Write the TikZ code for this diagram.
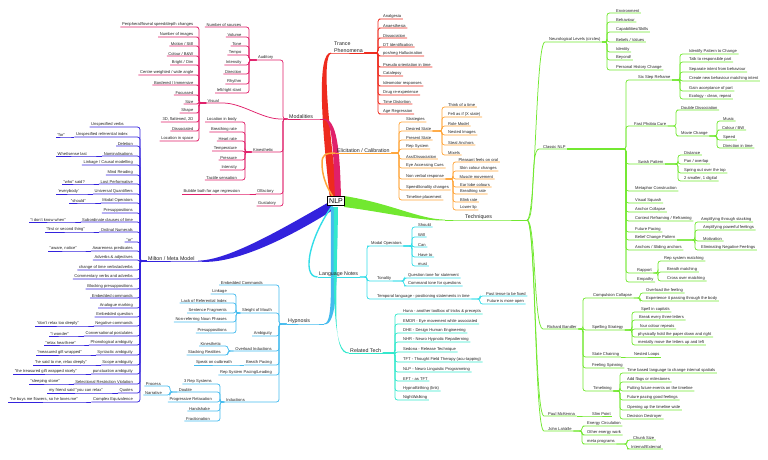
\documentclass[tikz,border=0pt]{standalone}
\usepackage{fontspec}
\setmainfont{Liberation Sans}
\usetikzlibrary{calc,backgrounds}
\definecolor{txt}{HTML}{222222}
\definecolor{trC}{HTML}{EE2B1E}
\definecolor{moC}{HTML}{E0206A}
\definecolor{elC}{HTML}{FFA53A}
\definecolor{teC}{HTML}{72E830}
\definecolor{miC}{HTML}{3322DD}
\definecolor{lnC}{HTML}{33DDE8}
\definecolor{hyC}{HTML}{44BBEE}
\definecolor{rtC}{HTML}{33E8CC}
\tikzset{
  base/.style={inner xsep=1.5pt, inner ysep=0.7pt, font=\fontsize{4.1}{4.8}\selectfont, text=txt},
  R/.style={base, anchor=south west},
  L/.style={base, anchor=south east},
  big/.style={font=\fontsize{5.3}{6.8}\selectfont},
  con/.style={line width=0.75pt, rounded corners=2.5pt},
  trL/.style={con, draw=trC},
  moL/.style={con, draw=moC},
  elL/.style={con, draw=elC},
  teL/.style={con, draw=teC},
  miL/.style={con, draw=miC},
  lnL/.style={con, draw=lnC},
  hyL/.style={con, draw=hyC},
  rtL/.style={con, draw=rtC},
  nlpbox/.style={draw=black, line width=0.8pt, fill=white, inner sep=1.8pt, font=\fontsize{7}{8}\selectfont, text=black}
}
\begin{document}
\begin{tikzpicture}[x=1pt,y=-1pt]
\useasboundingbox (0,0) rectangle (768,460);
\node[nlpbox] (nlp) at (336,201) {NLP};

% ================= Trance Phenomena =================
\node[R,big,align=left] (tp) at (332.5,53) {Trance\\Phenomena};
\coordinate (sTP) at (378,0);
\node[R] (t1) at (381.5,19) {Analgesia};
\node[R] (t2) at (381.5,28) {Anaesthesia};
\node[R] (t3) at (381.5,38) {Dissociation};
\node[R] (t4) at (381.5,47) {DT Identification};
\node[R] (t5) at (381.5,56) {pos/neg Hallucination};
\node[R] (t6) at (381.5,67) {Pseudo orientation in time};
\node[R] (t7) at (381.5,76) {Catalepsy};
\node[R] (t8) at (381.5,86) {Ideomotor responses};
\node[R] (t9) at (381.5,95) {Drug re-experience};
\node[R] (t10) at (381.5,104) {Time Distortion};
\node[R] (t11) at (381.5,114) {Age Regression};
\draw[trL] (331,53) -- (tp.south west) -- (tp.south east);
\foreach \i in {1,...,11} \draw[trL] (tp.south east) -- (tp.south east -| sTP) |- (t\i.south west) -- (t\i.south east);

% ================= Modalities =================
\node[R,big] (mod) at (287.5,119) {Modalities};
\coordinate (sMod) at (283,0);
\node[R] (aud) at (256.5,60) {Auditory};
\node[R] (vis) at (206,103) {Visual};
\node[R] (kin) at (251.5,152) {Kinesthetic};
\node[R] (olf) at (255.5,194) {Olfactory};
\node[R] (gus) at (256.5,206) {Gustatory};
\draw[moL] (323,119) -- (mod.south east) -- (mod.south west);
\foreach \c in {aud,kin,olf,gus} \draw[moL] (mod.south west) -- (mod.south west -| sMod) |- (\c.south east) -- (\c.south west);
\draw[moL] (mod.south west) -- (mod.south west -| sMod) .. controls (262,119) and (242,103) .. (vis.south east) -- (vis.south west);
% Auditory
\coordinate (sAud) at (249,0);
\node[L] (a1) at (243,27) {Number of sources};
\node[L] (a2) at (243,37) {Volume};
\node[L] (a3) at (243,46) {Tone};
\node[L] (a4) at (243,55) {Tempo};
\node[L] (a5) at (243,65) {Intensity};
\node[L] (a6) at (243,74) {Direction};
\node[L] (a7) at (243,84) {Rhythm};
\node[L] (a8) at (243,93) {left/right slant};
\foreach \i in {1,...,8} \draw[moL] (aud.south west) -- (aud.south west -| sAud) |- (a\i.south east) -- (a\i.south west);
% Visual
\coordinate (sVis) at (199,0);
\node[L] (v1) at (195,27) {Peripheral/foveal speed/depth changes};
\node[L] (v2) at (195,37) {Number of images};
\node[L] (v3) at (195,46) {Motion / Still};
\node[L] (v4) at (195,56) {Colour / B\&W};
\node[L] (v5) at (195,65) {Bright / Dim};
\node[L] (v6) at (195,75) {Centre-weighted / wide angle};
\node[L] (v7) at (195,85) {Bordered / Immersive};
\node[L] (v8) at (195,95) {Focussed};
\node[L] (v9) at (195,104) {Size};
\node[L] (v10) at (195,113) {Shape};
\node[L] (v11) at (195,122) {3D, flattened, 2D};
\node[L] (v12) at (195,131) {Dissociated};
\node[L] (v13) at (195,141) {Location in space};
\foreach \i in {1,...,13} \draw[moL] (vis.south west) -- (vis.south west -| sVis) |- (v\i.south east) -- (v\i.south west);
% Kinesthetic
\coordinate (sKin) at (245,0);
\node[L] (k1) at (238.5,122) {Location in body};
\node[L] (k2) at (238.5,132) {Breathing rate};
\node[L] (k3) at (238.5,141) {Heart rate};
\node[L] (k4) at (238.5,151) {Temperature};
\node[L] (k5) at (238.5,160) {Pressure};
\node[L] (k6) at (238.5,170) {Intensity};
\node[L] (k7) at (238.5,180) {Tactile sensation};
\foreach \i in {1,...,7} \draw[moL] (kin.south west) -- (kin.south west -| sKin) |- (k\i.south east) -- (k\i.south west);
% Olfactory
\node[L] (bub) at (241.5,194) {Bubble bath for age regression};
\draw[moL] (olf.south west) -- (bub.south east) -- (bub.south west);

% ================= Elicitation / Calibration =================
\node[R,big] (el) at (335.5,153) {Elicitation / Calibration};
\coordinate (sEl) at (399,0);
\node[R] (e1) at (404.5,122) {Strategies};
\node[R] (e2) at (404.5,131) {Desired State};
\node[R] (e3) at (404.5,140) {Present State};
\node[R] (e4) at (404.5,149) {Rep System};
\node[R] (e5) at (404.5,159) {Ass/Dissociation};
\node[R] (e6) at (404.5,168) {Eye Accessing Cues};
\node[R] (e7) at (404.5,179) {Non verbal response};
\node[R] (e8) at (404.5,190) {Speed/tonality changes};
\node[R] (e9) at (404.5,200) {Timeline placement};
\draw[elL] (el.south west) -- (el.south east);
\foreach \i in {1,...,9} \draw[elL] (el.south east) -- (el.south east -| sEl) |- (e\i.south west) -- (e\i.south east);
\coordinate (sDes) at (442,0);
\node[R] (d1) at (446.5,107) {Think of a time};
\node[R] (d2) at (446.5,117) {Felt as if (X state)};
\node[R] (d3) at (446.5,126) {Role Model};
\node[R] (d4) at (446.5,135) {Nested Images};
\node[R] (d5) at (446.5,145) {Steal Anchors};
\node[R] (d6) at (446.5,155) {Mixels};
\foreach \i in {1,...,6} \draw[elL] (e2.south east) -- (e2.south east -| sDes) |- (d\i.south west) -- (d\i.south east);
\coordinate (sNv) at (453,0);
\node[R] (n1) at (457,162) {Pleasant feels on oral};
\node[R] (n2) at (458,171) {Skin colour changes};
\node[R] (n3) at (458,179) {Muscle movement};
\node[R] (n4) at (458.5,187) {Ear lobe colours};
\node[R] (n5) at (458.5,194) {Breathing rate};
\node[R] (n6) at (458.5,202) {Blink rate};
\node[R] (n7) at (458.5,210) {Lower lip};
\foreach \i in {1,...,7} \draw[elL] (e7.south east) -- (e7.south east -| sNv) |- (n\i.south west) -- (n\i.south east);

% ================= Techniques =================
\node[R,big] (tech) at (463.5,220) {Techniques};
\coordinate (sTe) at (527,220);
\draw[teL] (445,220) -- (tech.south west) -- (tech.south east) -- (sTe);
\node[R] (nl) at (547.5,42) {Neurological Levels (circles)};
\node[R] (cn) at (541.5,149) {Classic NLP};
\node[R] (rb) at (545.5,329) {Richard Bandler};
\node[R] (pm) at (546.5,416) {Paul McKenna};
\node[R] (jl) at (546.5,431) {John LaValle};
\foreach \c in {nl,cn,rb,pm,jl} \draw[teL] (sTe) .. controls +(9,0) and +(-12,0) .. (\c.south west) -- (\c.south east);
% Neurological levels
\coordinate (sNl) at (607,0);
\node[R] (nl1) at (614.5,13) {Environment};
\node[R] (nl2) at (614.5,22) {Behaviour};
\node[R] (nl3) at (614.5,32) {Capabilities/Skills};
\node[R] (nl4) at (614.5,42) {Beliefs / Values};
\node[R] (nl5) at (614.5,52) {Identity};
\node[R] (nl6) at (614.5,60) {Beyond!};
\node[R] (nl7) at (614.5,70) {Personal History Change};
\foreach \i in {1,...,7} \draw[teL] (nl.south east) -- (nl.south east -| sNl) |- (nl\i.south west) -- (nl\i.south east);
% Classic NLP
\coordinate (sCn) at (626,0);
\node[R] (c1) at (636.5,80) {Six Step Reframe};
\node[R] (c2) at (632.5,126) {Fast Phobia Cure};
\node[R] (c3) at (636.5,164) {Swish Pattern};
\node[R] (c4) at (633.5,191) {Metaphor Construction};
\node[R] (c5) at (633.5,203) {Visual Squash};
\node[R] (c6) at (633.5,212) {Anchor Collapse};
\node[R] (c7) at (633.5,221) {Context Reframing / Reframing};
\node[R] (c8) at (633.5,232) {Future Pacing};
\node[R] (c9) at (633.5,240) {Belief Change Pattern};
\node[R] (c10) at (633.5,250) {Anchors / Sliding anchors};
\node[R] (c11) at (635.5,273) {Rapport};
\node[R] (c12) at (635.5,282) {Empathy};
\foreach \i in {1,...,12} \draw[teL] (cn.south east) -- (cn.south east -| sCn) |- (c\i.south west) -- (c\i.south east);
\coordinate (sSs) at (680,0);
\node[R] (s1) at (687.5,54) {Identify Pattern to Change};
\node[R] (s2) at (687.5,62) {Talk to responsible part};
\node[R] (s3) at (687.5,72) {Separate intent from behaviour};
\node[R] (s4) at (687.5,81) {Create new behaviour matching intent};
\node[R] (s5) at (687.5,91) {Gain acceptance of part};
\node[R] (s6) at (687.5,99) {Ecology - clean, repeat};
\foreach \i in {1,...,6} \draw[teL] (c1.south east) -- (c1.south east -| sSs) |- (s\i.south west) -- (s\i.south east);
\coordinate (sFp) at (676,0);
\node[R] (f1) at (679.5,110) {Double Dissociation};
\node[R] (f2) at (679.5,136) {Movie Change};
\foreach \i in {1,2} \draw[teL] (c2.south east) -- (c2.south east -| sFp) |- (f\i.south west) -- (f\i.south east);
\coordinate (sMv) at (717,0);
\node[R] (mv1) at (721.5,121) {Music};
\node[R] (mv2) at (720.5,130) {Colour / BW};
\node[R] (mv3) at (721.5,140) {Speed};
\node[R] (mv4) at (721.5,148) {Direction in time};
\foreach \i in {1,...,4} \draw[teL] (f2.south east) -- (f2.south east -| sMv) |- (mv\i.south west) -- (mv\i.south east);
\coordinate (sSw) at (678,0);
\node[R] (sw1) at (682.5,155) {Distance};
\node[R] (sw2) at (682.5,164) {Pan / overlap};
\node[R] (sw3) at (682.5,173) {Spring out over the top};
\node[R] (sw4) at (682.5,181) {2 smaller, 1 digital};
\foreach \i in {1,...,4} \draw[teL] (c3.south east) -- (c3.south east -| sSw) |- (sw\i.south west) -- (sw\i.south east);
\coordinate (sBc) at (695,0);
\node[R] (b1) at (699.5,222) {Amplifying through stacking};
\node[R] (b2) at (701.5,230) {Amplifying powerful feelings};
\node[R] (b3) at (701.5,241) {Motivation};
\node[R] (b4) at (699.5,250) {Eliminating Negative Feelings};
\foreach \i in {1,...,4} \draw[teL] (c9.south east) -- (c9.south east -| sBc) |- (b\i.south west) -- (b\i.south east);
\coordinate (sRp) at (658,0);
\node[R] (r1) at (662.5,261) {Rep system matching};
\node[R] (r2) at (665.5,272) {Breath matching};
\node[R] (r3) at (665.5,281) {Cross over matching};
\foreach \i in {1,2,3} \draw[teL] (c11.south east) -- (c11.south east -| sRp) |- (r\i.south west) -- (r\i.south east);
% Richard Bandler
\coordinate (sRb) at (583,0);
\node[R] (cc) at (591.5,298) {Compulsion Collapse};
\node[R] (ss) at (590.5,330) {Spelling Strategy};
\node[R] (sc) at (590.5,357) {State Chaining};
\node[R] (fs) at (590.5,368) {Feeling Spinning};
\node[R] (tl) at (591.5,391) {Timelining};
\foreach \c in {cc,ss,sc,fs,tl} \draw[teL] (rb.south east) -- (rb.south east -| sRb) |- (\c.south west) -- (\c.south east);
\coordinate (sCc) at (640,0);
\node[R] (cc1) at (644.5,293) {Overload the feeling};
\node[R] (cc2) at (644.5,301) {Experience it passing through the body};
\foreach \i in {1,2} \draw[teL] (cc.south east) -- (cc.south east -| sCc) |- (cc\i.south west) -- (cc\i.south east);
\coordinate (sSp) at (632,0);
\node[R] (sp1) at (639.5,312) {Spell in capitals};
\node[R] (sp2) at (637.5,320) {Break every three letters};
\node[R] (sp3) at (638.5,329) {four colour repeats};
\node[R] (sp4) at (636.5,337) {physically hold the paper down and right};
\node[R] (sp5) at (636.5,345) {mentally move the letters up and left};
\foreach \i in {1,...,5} \draw[teL] (ss.south east) -- (ss.south east -| sSp) |- (sp\i.south west) -- (sp\i.south east);
\node[R] (nlo) at (632.5,357) {Nested Loops};
\draw[teL] (sc.south east) -- (nlo.south west) -- (nlo.south east);
\coordinate (sTl) at (620,0);
\node[R] (tl1) at (625.5,373) {Time based language to change internal spatials};
\node[R] (tl2) at (625.5,382) {Add flags or milestones};
\node[R] (tl3) at (625.5,391) {Putting future events on the timeline};
\node[R] (tl4) at (625.5,400) {Future pacing good feelings};
\node[R] (tl5) at (625.5,410) {Opening up the timeline wide};
\node[R] (tl6) at (625.5,419) {Decision Destroyer};
\foreach \i in {1,...,6} \draw[teL] (tl.south east) -- (tl.south east -| sTl) |- (tl\i.south west) -- (tl\i.south east);
\node[R] (slp) at (590.5,416) {Slim Point};
\draw[teL] (pm.south east) -- (slp.south west) -- (slp.south east);
\coordinate (sJl) at (582,0);
\node[R] (jl1) at (585.5,426) {Energy Circulation};
\node[R] (jl2) at (585.5,435) {Other energy work};
\node[R] (jl3) at (585.5,444) {meta programs};
\foreach \i in {1,2,3} \draw[teL] (jl.south east) -- (jl.south east -| sJl) |- (jl\i.south west) -- (jl\i.south east);
\coordinate (sMp) at (627,0);
\node[R] (mp1) at (631.5,440) {Chunk Size};
\node[R] (mp2) at (629.5,449) {Internal/External};
\foreach \i in {1,2} \draw[teL] (jl3.south east) -- (jl3.south east -| sMp) |- (mp\i.south west) -- (mp\i.south east);

% ================= Milton / Meta Model =================
\node[R,big] (mil) at (146.5,261) {Milton / Meta Model};
\coordinate (sMil) at (140,0);
\draw[miL] (198,261) -- (mil.south east) -- (mil.south west);
\node[L] (m1) at (125.5,127) {Unspecified verbs};
\node[L] (m2) at (129.5,137) {Unspecified referential index};
\node[L] (m3) at (134.5,146) {Deletion};
\node[L] (m4) at (134.5,156) {Nominalisations};
\node[L] (m5) at (134.5,165) {Linkage / Causal modelling};
\node[L] (m6) at (134.5,175) {Mind Reading};
\node[L] (m7) at (134.5,184) {Lost Performative};
\node[L] (m8) at (134.5,194) {Universal Quantifiers};
\node[L] (m9) at (134.5,203) {Modal Operators};
\node[L] (m10) at (134.5,213) {Presuppositions};
\node[L] (m11) at (134.5,222) {Subordinate clauses of time};
\node[L] (m12) at (134.5,232) {Ordinal Numerals};
\node[L] (m13) at (134.5,242) {"or"};
\node[L] (m14) at (134.5,251) {Awareness predicates};
\node[L] (m15) at (134.5,260) {Adverbs \& adjectives};
\node[L] (m16) at (134.5,270) {change of time verbs/adverbs};
\node[L] (m17) at (134.5,279) {Commentary verbs and adverbs};
\node[L] (m18) at (134.5,289) {Blocking presuppositions};
\node[L] (m19) at (134.5,298) {Embedded commands};
\node[L] (m20) at (134.5,308) {Analogue marking};
\node[L] (m21) at (134.5,317) {Embedded question};
\node[L] (m22) at (134.5,326) {Negative commands};
\node[L] (m23) at (134.5,336) {Conversational postulates};
\node[L] (m24) at (134.5,345) {Phonological ambiguity};
\node[L] (m25) at (134.5,355) {Syntactic ambiguity};
\node[L] (m26) at (134.5,365) {Scope ambiguity};
\node[L] (m27) at (134.5,374) {punctuation ambiguity};
\node[L] (m28) at (134.5,384) {Selectional Restriction Violation};
\node[L] (m29) at (134.5,393) {Quotes};
\node[L] (m30) at (134.5,402) {Complex Equivalence};
\foreach \i in {1,...,30} \draw[miL] (mil.south west) -- (mil.south west -| sMil) |- (m\i.south east) -- (m\i.south west);
\node[L] (g2) at (66.5,137) {"for"};
\node[L] (g4) at (88.5,156) {Whet/sense last};
\node[L] (g7) at (86.5,184) {"who" said?};
\node[L] (g8) at (80.5,194) {'everybody'};
\node[L] (g9) at (87.5,203) {"should"};
\node[L] (g11) at (67.5,222) {"I don't know when"};
\node[L] (g12) at (86.5,232) {"first or second thing"};
\node[L] (g14) at (78.5,251) {"aware, notice"};
\node[L] (g22) at (80.5,326) {"don't relax too deeply"};
\node[L] (g23) at (70.5,336) {"I wonder"};
\node[L] (g24) at (77.5,345) {"relax hear/here"};
\node[L] (g25) at (83.5,355) {"measured gift wrapped"};
\node[L] (g26) at (88.5,365) {"he said to me, relax deeply"};
\node[L] (g27) at (78.5,374) {"the treasured gift wrapped nicely"};
\node[L] (g28) at (61.5,384) {"sleeping stone"};
\node[L] (g29) at (104.5,393) {my friend said "you can relax"};
\node[L] (g30) at (79.5,402) {"he buys me flowers, so he loves me"};
\foreach \i in {2,4,7,8,9,11,12,14,22,23,24,25,26,27,28,29,30} \draw[miL] (m\i.south west) -- (g\i.south east) -- (g\i.south west);

% ================= Language Notes =================
\node[R,big] (lnn) at (317.5,277) {Language Notes};
\coordinate (sLn) at (367,0);
\draw[lnL] (lnn.south west) -- (lnn.south east);
\node[R] (lo1) at (369.5,246) {Modal Operators};
\node[R] (lo2) at (375.5,281) {Tonality};
\node[R] (lo3) at (375.5,299) {Temporal language - positioning statements in time};
\foreach \i in {1,2,3} \draw[lnL] (lnn.south east) -- (lnn.south east -| sLn) |- (lo\i.south west) -- (lo\i.south east);
\coordinate (sMo) at (412,0);
\node[R] (mo1) at (416.5,227) {Should};
\node[R] (mo2) at (416.5,237) {Will};
\node[R] (mo3) at (416.5,247) {Can};
\node[R] (mo4) at (416.5,257) {Have to};
\node[R] (mo5) at (416.5,266) {must};
\foreach \i in {1,...,5} \draw[lnL] (lo1.south east) -- (lo1.south east -| sMo) |- (mo\i.south west) -- (mo\i.south east);
\coordinate (sTo) at (404,0);
\node[R] (to1) at (406.5,278) {Question tone for statement};
\node[R] (to2) at (406.5,286) {Command tone for questions};
\foreach \i in {1,2} \draw[lnL] (lo2.south east) -- (lo2.south east -| sTo) |- (to\i.south west) -- (to\i.south east);
\coordinate (sTm) at (480,0);
\node[R] (tm1) at (484.5,296) {Past tense to be fixed};
\node[R] (tm2) at (485.5,304) {Future is more open};
\foreach \i in {1,2} \draw[lnL] (lo3.south east) -- (lo3.south east -| sTm) |- (tm\i.south west) -- (tm\i.south east);

% ================= Hypnosis =================
\node[R,big] (hyp) at (286.5,324) {Hypnosis};
\coordinate (sHy) at (279,0);
\draw[hyL] (324,324) -- (hyp.south east) -- (hyp.south west);
\node[L] (h1) at (264.5,285) {Embedded Commands};
\node[L] (h2) at (273.5,313) {Sleight of Mouth};
\node[L] (h3) at (273.5,336) {Ambiguity};
\node[L] (h4) at (273.5,351) {Overload Inductions};
\node[L] (h5) at (273.5,365) {Breath Pacing};
\node[L] (h6) at (273.5,375) {Rep System Pacing/Leading};
\node[L] (h7) at (246.5,402) {Inductions};
\foreach \i in {1,...,7} \draw[hyL] (hyp.south west) -- (hyp.south west -| sHy) |- (h\i.south east) -- (h\i.south west);
\coordinate (sSm) at (236,0);
\node[L] (so1) at (228.5,294) {Linkage};
\node[L] (so2) at (228.5,303) {Lack of Referential Index};
\node[L] (so3) at (228.5,313) {Sentence Fragments};
\node[L] (so4) at (228.5,322) {Non-referring Noun Phrases};
\node[L] (so5) at (228.5,333) {Presuppositions};
\foreach \i in {1,...,5} \draw[hyL] (h2.south west) -- (h2.south west -| sSm) |- (so\i.south east) -- (so\i.south west);
\coordinate (sOv) at (228,0);
\node[L] (ov1) at (222.5,346) {Kinesthetic};
\node[L] (ov2) at (222.5,355) {Stacking Realities};
\foreach \i in {1,2} \draw[hyL] (h4.south west) -- (h4.south west -| sOv) |- (ov\i.south east) -- (ov\i.south west);
\node[L] (bp1) at (233.5,365) {Speak on outbreath};
\draw[hyL] (h5.south west) -- (bp1.south east) -- (bp1.south west);
\coordinate (sIn) at (220,0);
\node[L] (in1) at (213.5,384) {3 Rep Systems};
\node[L] (in2) at (193.5,392) {Double};
\node[L] (in3) at (213.5,402) {Progressive Relaxation};
\node[L] (in4) at (211.5,411) {Handshake};
\node[L] (in5) at (211.5,421) {Fractionation};
\foreach \i in {1,...,5} \draw[hyL] (h7.south west) -- (h7.south west -| sIn) |- (in\i.south east) -- (in\i.south west);
\coordinate (sDb) at (170,0);
\node[L] (db1) at (162.5,386) {Process};
\node[L] (db2) at (163.5,395) {Narrative};
\foreach \i in {1,2} \draw[hyL] (in2.south west) -- (in2.south west -| sDb) |- (db\i.south east) -- (db\i.south west);

% ================= Related Tech =================
\node[R,big] (rtn) at (348.5,353) {Related Tech};
\coordinate (sRt) at (395,0);
\draw[rtL] (rtn.south west) -- (rtn.south east);
\node[R] (rt1) at (401.5,314) {Huna - another toolbox of tricks \& precepts};
\node[R] (rt2) at (401.5,324) {EMDR - Eye movement while associated};
\node[R] (rt3) at (401.5,333) {DHE - Design Human Engineering};
\node[R] (rt4) at (401.5,342) {NHR - Neuro Hypnotic Repatterning};
\node[R] (rt5) at (401.5,352) {Sedona - Release Technique};
\node[R] (rt6) at (401.5,362) {TFT - Thought Field Therapy (acu-tapping)};
\node[R] (rt7) at (401.5,372) {NLP - Neuro Linguistic Programming};
\node[R] (rt8) at (401.5,381) {EFT - as TFT};
\node[R] (rt9) at (401.5,391) {HypnoBirthing (link)};
\node[R] (rt10) at (401.5,400) {NightWalking};
\foreach \i in {1,...,10} \draw[rtL] (rtn.south east) -- (rtn.south east -| sRt) |- (rt\i.south west) -- (rt\i.south east);

% ================= main branches (tapered) =================
\begin{scope}[on background layer]
\fill[trC] (330,199) .. controls (321,120) and (317,52.6) .. (331,52.6) -- (331,53.4) .. controls (322,57) and (328,120) .. (338,199) -- cycle;
\fill[moC] (335,199) .. controls (333,150) and (333,120) .. (323,119.4) -- (323,118.6) .. controls (337,118) and (340,150) .. (341,199) -- cycle;
\draw[elC, line width=1.5pt] (nlp.center) .. controls (324,185) and (322,172) .. (322,163) .. controls (322,155) and (325,153) .. (el.south west);
\fill[teC] (344,196) .. controls (390,203) and (420,219.6) .. (445,219.6) -- (445,220.4) .. controls (420,221) and (390,213) .. (344,207) -- cycle;
\fill[miC] (331,201) .. controls (290,224) and (230,260.6) .. (198,260.6) -- (198,261.4) .. controls (235,266) and (295,234) .. (333,210) -- cycle;
\draw[lnC, line width=1.4pt] (nlp.center) .. controls (311,232) and (300,277) .. (lnn.south west);
\fill[hyC] (331,207) .. controls (330,280) and (334,323.6) .. (324,323.6) -- (324,324.4) .. controls (338,326) and (337,280) .. (337,207) -- cycle;
\fill[rtC] (334,207) .. controls (333,300) and (333,352.6) .. (349,352.6) -- (349,353.4) .. controls (331,355) and (337,300) .. (338,207) -- cycle;
\end{scope}
\end{tikzpicture}
\end{document}
